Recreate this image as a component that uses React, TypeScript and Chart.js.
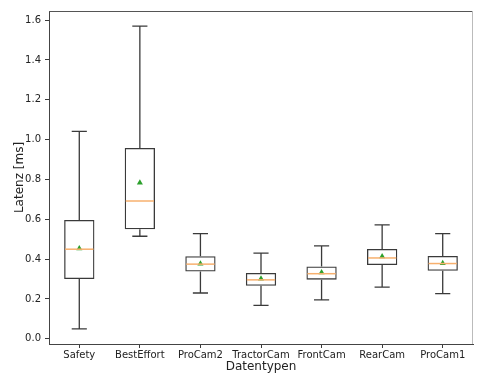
import React, { useEffect, useRef } from "react";
import { Chart, registerables } from "chart.js";

Chart.register(...registerables);

const categories = ["Safety", "BestEffort", "ProCam2", "TractorCam", "FrontCam", "RearCam", "ProCam1"];
const whiskerLow = [0.05, 0.515, 0.23, 0.168, 0.196, 0.26, 0.227];
const q1 = [0.3, 0.55, 0.338, 0.266, 0.297, 0.371, 0.342];
const medians = [0.45, 0.692, 0.375, 0.296, 0.327, 0.406, 0.378];
const q3 = [0.597, 0.958, 0.415, 0.331, 0.363, 0.451, 0.416];
const whiskerHigh = [1.042, 1.57, 0.528, 0.43, 0.467, 0.572, 0.528];
const means = [0.453, 0.784, 0.377, 0.301, 0.333, 0.413, 0.38];
const yTicks = [0.0, 0.2, 0.4, 0.6, 0.8, 1.0, 1.2, 1.4, 1.6];

const LINE = "#3a3a3a";
const TEXT = "#222";
const FONT = "'DejaVu Sans', sans-serif";

const boxPlugin = {
  id: "boxExtras",
  afterDatasetsDraw(chart: any) {
    const { ctx, chartArea, scales } = chart;
    const x = scales.x;
    const y = scales.y;
    const step = x.getPixelForValue(1) - x.getPixelForValue(0);
    const boxHalf = step * 0.25;
    const capHalf = step * 0.125;
    ctx.save();
    categories.forEach((_, i) => {
      const cx = x.getPixelForValue(i);
      ctx.strokeStyle = LINE;
      ctx.lineWidth = 1.3;
      ctx.beginPath();
      ctx.moveTo(cx, y.getPixelForValue(q3[i]));
      ctx.lineTo(cx, y.getPixelForValue(whiskerHigh[i]));
      ctx.moveTo(cx, y.getPixelForValue(q1[i]));
      ctx.lineTo(cx, y.getPixelForValue(whiskerLow[i]));
      ctx.moveTo(cx - capHalf, y.getPixelForValue(whiskerHigh[i]));
      ctx.lineTo(cx + capHalf, y.getPixelForValue(whiskerHigh[i]));
      ctx.moveTo(cx - capHalf, y.getPixelForValue(whiskerLow[i]));
      ctx.lineTo(cx + capHalf, y.getPixelForValue(whiskerLow[i]));
      ctx.stroke();
      ctx.strokeStyle = "#f7b06e";
      ctx.lineWidth = 1.5;
      ctx.beginPath();
      ctx.moveTo(cx - boxHalf + 1, y.getPixelForValue(medians[i]));
      ctx.lineTo(cx + boxHalf - 1, y.getPixelForValue(medians[i]));
      ctx.stroke();
    });
    ctx.strokeStyle = "#555";
    ctx.lineWidth = 1;
    ctx.beginPath();
    ctx.moveTo(chartArea.left, chartArea.top + 0.5);
    ctx.lineTo(chartArea.right, chartArea.top + 0.5);
    ctx.stroke();
    ctx.strokeStyle = "#bbb";
    ctx.beginPath();
    ctx.moveTo(chartArea.right - 0.5, chartArea.top);
    ctx.lineTo(chartArea.right - 0.5, chartArea.bottom);
    ctx.stroke();
    ctx.restore();
  },
};

export default function App() {
  const ref = useRef<HTMLCanvasElement>(null);
  useEffect(() => {
    document.body.style.margin = "0";
    const chart = new Chart(ref.current!, {
      type: "bar",
      data: {
        labels: categories,
        datasets: [
          {
            type: "line",
            data: means,
            showLine: false,
            pointStyle: "triangle",
            pointRadius: 3.5,
            pointBackgroundColor: "#2ca02c",
            pointBorderColor: "#2ca02c",
            pointBorderWidth: 0,
            order: 0,
          } as any,
          {
            type: "bar",
            data: q1.map((v, i) => [v, q3[i]]),
            backgroundColor: "rgba(0,0,0,0)",
            borderColor: LINE,
            borderWidth: 1.3,
            borderSkipped: false,
            barPercentage: 0.5,
            categoryPercentage: 1,
            order: 1,
          } as any,
        ],
      },
      options: {
        animation: false,
        responsive: false,
        maintainAspectRatio: false,
        layout: { padding: { top: 11, right: 1, left: 0, bottom: 0 } },
        plugins: { legend: { display: false }, tooltip: { enabled: false } },
        scales: {
          x: {
            offset: true,
            grid: { display: true, offset: false, drawOnChartArea: false, drawTicks: true, tickLength: 4, color: LINE },
            border: { display: true, color: "#444", width: 1 },
            ticks: { color: TEXT, font: { family: FONT, size: 10 }, padding: 1, maxRotation: 0, autoSkip: false },
            title: {
              display: true,
              text: "Datentypen",
              color: TEXT,
              font: { family: FONT, size: 12, lineHeight: 1 },
              padding: { top: 0, bottom: 1 },
            },
            afterFit: (s: any) => {
              s.height = 30;
            },
          },
          y: {
            min: -0.026,
            max: 1.646,
            afterBuildTicks: (s: any) => {
              s.ticks = yTicks.map((v) => ({ value: v }));
            },
            grid: { display: true, drawOnChartArea: false, drawTicks: true, tickLength: 4, color: LINE },
            border: { display: true, color: "#444", width: 1 },
            ticks: {
              color: TEXT,
              font: { family: FONT, size: 10 },
              padding: 4,
              callback: (v: any) => Number(v).toFixed(1),
            },
            title: {
              display: true,
              text: "Latenz [ms]",
              color: TEXT,
              font: { family: FONT, size: 12, lineHeight: 1.2 },
              padding: { top: 13, bottom: 0 },
            },
            afterFit: (s: any) => {
              s.width = 49;
            },
          },
        },
      },
      plugins: [boxPlugin],
    });
    return () => chart.destroy();
  }, []);
  return (
    <div style={{ width: 477, height: 374, position: "relative", background: "#fff" }}>
      <canvas ref={ref} width={477} height={374} style={{ display: "block" }} />
    </div>
  );
}
